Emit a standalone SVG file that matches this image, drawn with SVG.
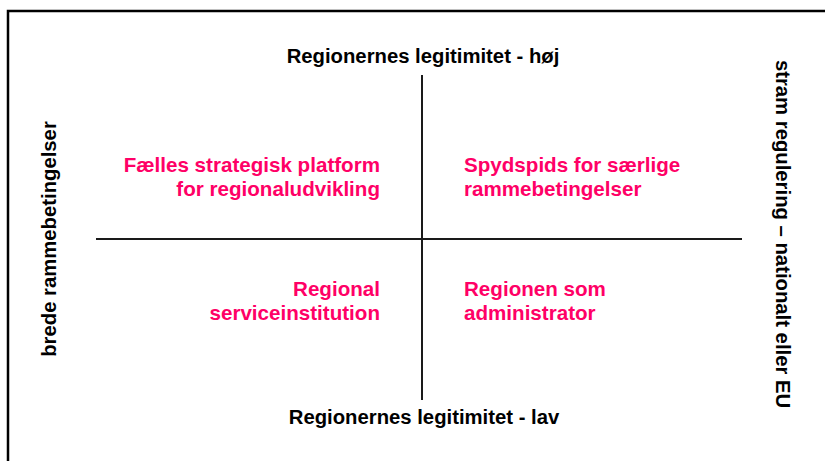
<svg xmlns="http://www.w3.org/2000/svg" width="825" height="461" viewBox="0 0 825 461">
<style>
text{font-family:"Liberation Sans",Arial,sans-serif;font-weight:bold;font-size:20.3px}
.axis{fill:#000}
.q{fill:#FF0066;font-size:20.6px}
.ln{stroke:#1a1a1a;stroke-width:2;fill:none}
</style>
<rect width="825" height="461" fill="#fff"/>
<path d="M8,461 V11 H825" stroke="#000" stroke-width="2.5" fill="none"/>
<g id="connectors">
<line class="ln" x1="96" y1="239" x2="742" y2="239"/>
<line class="ln" x1="422" y1="75" x2="422" y2="400"/>
</g>
<g id="top-label"><text class="axis" x="423" y="63" text-anchor="middle">Regionernes legitimitet - høj</text></g>
<g id="bottom-label"><text class="axis" x="424" y="424" text-anchor="middle">Regionernes legitimitet - lav</text></g>
<g id="left-label"><text class="axis" transform="translate(56,239) rotate(-90)" text-anchor="middle">brede rammebetingelser</text></g>
<g id="right-label"><text class="axis" transform="translate(776,234) rotate(90)" text-anchor="middle">stram regulering – nationalt eller EU</text></g>
<g id="q-top-left"><text class="q" text-anchor="end"><tspan x="380" y="172">Fælles strategisk platform</tspan><tspan x="380" y="196">for regionaludvikling</tspan></text></g>
<g id="q-top-right"><text class="q"><tspan x="464" y="172">Spydspids for særlige</tspan><tspan x="464" y="196">rammebetingelser</tspan></text></g>
<g id="q-bottom-left"><text class="q" text-anchor="end"><tspan x="380" y="296">Regional</tspan><tspan x="380" y="320">serviceinstitution</tspan></text></g>
<g id="q-bottom-right"><text class="q"><tspan x="464" y="296">Regionen som</tspan><tspan x="464" y="320">administrator</tspan></text></g>
</svg>
